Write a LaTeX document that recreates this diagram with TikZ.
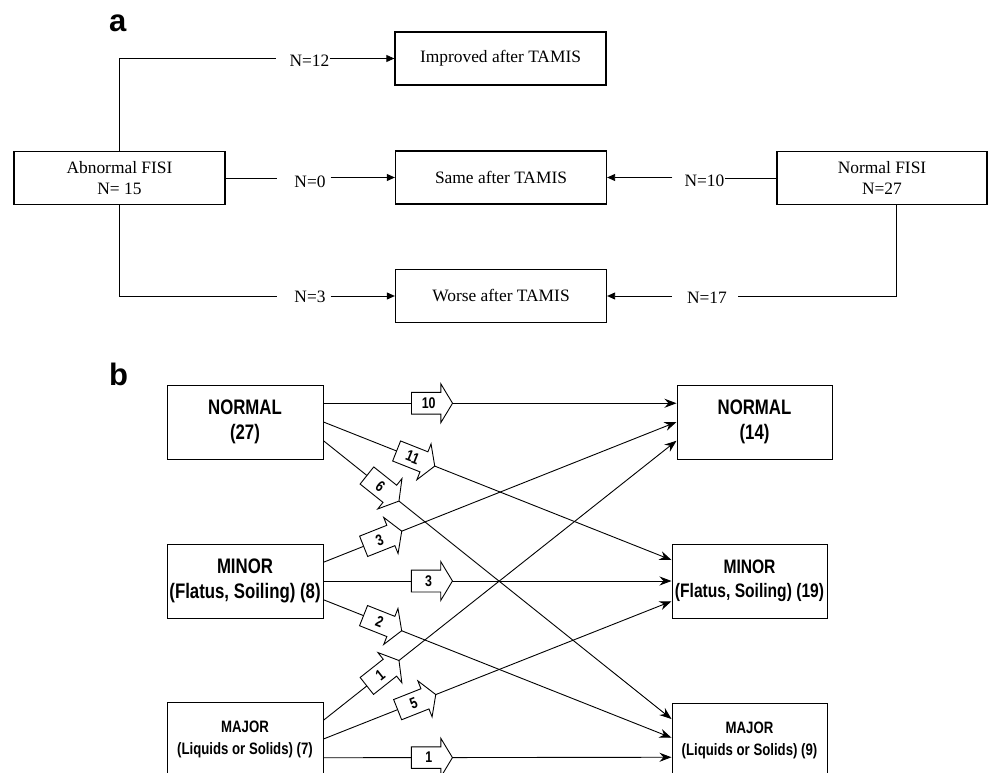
\documentclass[tikz,border=0pt]{standalone}
\usepackage{fontspec}
\setmainfont{Liberation Serif}
\newfontfamily\narfont{Liberation Sans}[FakeStretch=0.8]
\newfontfamily\labfont{Liberation Sans}
\usetikzlibrary{arrows.meta,shapes.arrows,calc}
\begin{document}
\begin{tikzpicture}[x=1pt,y=-1pt,
 boxa/.style={draw, line width=1.3pt, minimum width=211pt, minimum height=53pt, inner sep=0pt, align=center, font=\fontsize{17.4}{21}\selectfont},
 lbl/.style={inner sep=0pt, font=\fontsize{17.4}{21}\selectfont},
 conn/.style={line width=0.9pt},
 arra/.style={conn, -{Triangle[length=8pt,width=7pt]}},
 boxb/.style={draw, line width=1pt, minimum width=156pt, minimum height=74pt, inner sep=0pt, align=center, font=\narfont\bfseries\fontsize{21}{25}\selectfont},
 boxbm/.style={boxb, font=\narfont\bfseries\fontsize{19.5}{24}\selectfont},
 boxbs/.style={boxb, font=\narfont\bfseries\fontsize{16.5}{22}\selectfont},
 arrb/.style={line width=0.9pt, -{Stealth[length=12pt,width=9pt,inset=4pt]}},
 blk/.style={single arrow, draw, fill=white, line width=0.9pt, font=\narfont\bfseries\fontsize{15.5}{15.5}\selectfont, inner xsep=2pt, inner ysep=5pt, minimum height=41pt, minimum width=38pt, single arrow head extend=8.5pt, single arrow tip angle=118, sloped, anchor=tip},
 panel/.style={inner sep=0pt, anchor=base west, font=\labfont\bfseries\fontsize{31}{31}\selectfont}
]
\useasboundingbox (0,0) rectangle (988,773);
\clip (0,0) rectangle (988,773);

% ---------- panel a ----------
\node[panel] (pa) at (109,32) {a};
\node[boxa] (abn) at (119.5,178) {Abnormal FISI\\N= 15};
\node[boxa] (imp) at (500.5,58.5) {Improved after TAMIS};
\node[boxa] (same) at (501,177.5) {Same after TAMIS};
\node[boxa] (worse) at (501,296) {Worse after TAMIS};
\node[boxa, minimum width=210pt] (nfisi) at (882,178) {Normal FISI\\N=27};

\node[lbl] (l12) at (309.5,61) {N=12};
\node[lbl] (l0) at (310,181.5) {N=0};
\node[lbl] (l3) at (310,296.5) {N=3};
\node[lbl] (l10) at (704.5,180.5) {N=10};
\node[lbl] (l17) at (707,298) {N=17};

\draw[conn] (abn.north) |- ($(l12.west |- imp.west)+(-13,0)$);
\draw[arra] (l12.east |- imp.west) -- (imp.west);
\draw[conn] (abn.east) -- ($(l0.west |- abn.east)+(-17,0)$);
\draw[arra] ($(l0.east |- same.west)+(5,0)$) -- (same.west);
\draw[conn] (abn.south) |- ($(l3.west |- worse.west)+(-17,0)$);
\draw[arra] ($(l3.east |- worse.west)+(5,0)$) -- (worse.west);
\draw[conn] (nfisi.west) -- (l10.east |- nfisi.west);
\draw[arra] ($(l10.west |- same.east)+(-12,0)$) -- (same.east);
\draw[conn] ($(nfisi.south)+(14,0)$) |- ($(l17.east |- worse.east)+(11,0)$);
\draw[arra] ($(l17.west |- worse.east)+(-15,0)$) -- (worse.east);

% ---------- panel b ----------
\node[panel] (pb) at (109,385) {b};
\node[boxb] (nl) at (245,422) {NORMAL\\(27)};
\node[boxb] (ml) at (245,581) {MINOR\\(Flatus, Soiling) (8)};
\node[boxbs] (jl) at (245,739) {MAJOR\\(Liquids or Solids) (7)};
\node[boxb, minimum width=155pt] (nr) at (754.5,422) {NORMAL\\(14)};
\node[boxbm, minimum width=155pt] (mr) at (749.5,581) {MINOR\\(Flatus, Soiling) (19)};
\node[boxbs, minimum width=155pt] (jr) at (749.5,740) {MAJOR\\(Liquids or Solids) (9)};

\draw[arrb] ($(nl.north east)!0.25!(nl.south east)$) -- node[blk,pos=0.367]{10} ($(nr.north west)!0.25!(nr.south west)$);
\draw[arrb] ($(nl.north east)!0.5!(nl.south east)$) -- node[blk,pos=0.321]{11} ($(mr.north west)!0.22!(mr.south west)$);
\draw[arrb] ($(nl.north east)!0.75!(nl.south east)$) -- node[blk,pos=0.218]{6} ($(jr.north west)!0.22!(jr.south west)$);
\draw[arrb] ($(ml.north east)!0.25!(ml.south east)$) -- node[blk,pos=0.223]{3} ($(nr.north west)!0.5!(nr.south west)$);
\draw[arrb] ($(ml.north east)!0.5!(ml.south east)$) -- node[blk,pos=0.372]{3} ($(mr.north west)!0.5!(mr.south west)$);
\draw[arrb] ($(ml.north east)!0.75!(ml.south east)$) -- node[blk,pos=0.226]{2} ($(jr.north west)!0.47!(jr.south west)$);
\draw[arrb] ($(jl.north east)!0.25!(jl.south east)$) -- node[blk,pos=0.215]{1} ($(nr.north west)!0.75!(nr.south west)$);
\draw[arrb] ($(jl.north east)!0.5!(jl.south east)$) -- node[blk,pos=0.324]{5} ($(mr.north west)!0.77!(mr.south west)$);
\draw[arrb] ($(jl.north east)!0.75!(jl.south east)$) -- node[blk,pos=0.372]{1} ($(jr.north west)!0.73!(jr.south west)$);
\end{tikzpicture}
\end{document}
